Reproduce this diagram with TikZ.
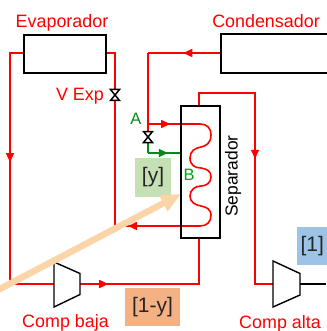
\documentclass[tikz,border=0pt]{standalone}
\usepackage{fontspec}
\setmainfont{Liberation Sans}
\usetikzlibrary{arrows.meta,decorations.markings}
\definecolor{rd}{RGB}{255,0,0}
\definecolor{grn}{RGB}{0,140,20}
\definecolor{lblgreen}{RGB}{197,224,180}
\definecolor{lblorange}{RGB}{244,177,131}
\definecolor{lblblue}{RGB}{157,195,230}
\definecolor{beige}{RGB}{251,212,168}
\tikzset{
  x=1pt,y=-1pt,
  unit/.style={draw=black,line width=1.7pt,inner sep=0,minimum width=#1},
  pipe/.style={draw=rd,line width=1.6pt},
  gpipe/.style={draw=grn,line width=1.6pt},
  mid/.style={postaction={decorate},decoration={markings,mark=at position #1 with {\arrow[rd]{Triangle[length=9pt,width=8pt]}}}},
  gmid/.style={postaction={decorate},decoration={markings,mark=at position #1 with {\arrow[grn]{Triangle[length=9pt,width=8pt]}}}},
  lab/.style={text=rd,font=\fontsize{17.9}{19}\selectfont,inner sep=0},
  tag/.style={font=\fontsize{21}{23}\selectfont,inner sep=0,text=black!85},
  valve/.style={draw=black,line width=1.5pt,fill=white},
  comp/.style={draw=black,line width=1.4pt,fill=white},
}
\begin{document}
\begin{tikzpicture}
\useasboundingbox (0,0) rectangle (326,331);
% junction coordinates
\coordinate (evL) at (23,53);
\coordinate (evR) at (105,53);
\coordinate (cdL) at (220,53);
\coordinate (lc1) at (10,53);
\coordinate (lc2) at (10,284);
\coordinate (rc1) at (115,53);
\coordinate (rc2) at (115,226);
\coordinate (ca) at (148,53);
\coordinate (vA) at (148,137);
\coordinate (jA) at (148,124);
\coordinate (sepIn) at (180,124);
\coordinate (coilEnd) at (180,226);
\coordinate (gc) at (148,153);
\coordinate (gEnd) at (180,153);
\coordinate (sT) at (199,105);
\coordinate (sB) at (199,237);
\coordinate (t1) at (199,93);
\coordinate (t2) at (255,93);
\coordinate (t3) at (255,284);
\coordinate (b1) at (199,284);
\coordinate (cbIn) at (54,284);
\coordinate (cbOut) at (80,284);
\coordinate (caIn) at (273,284);
\coordinate (caOut) at (300,284);
\coordinate (rEdge) at (326,284);
% pipes
\draw[pipe,mid=0.424] (evL) -- (lc1) -- (lc2) -- (cbIn);
\draw[pipe] (evR) -- (rc1) -- (rc2);
\draw[pipe] (ca) -- (vA);
\draw[pipe,mid=0.51] (cdL) -- (ca);
\draw[pipe,mid=0.69] (jA) -- (sepIn);
\draw[gpipe] (vA) -- (gc);
\draw[gpipe,gmid=0.62] (gc) -- (gEnd);
\draw[pipe,mid=0.483] (sT) -- (t1) -- (t2) -- (t3) -- (caIn);
\draw[pipe,mid=0.17] (cbOut) -- (b1) -- (sB);
\draw[black,line width=1.4pt] (caOut) -- (rEdge);
% coil
\draw[pipe] (sepIn) -- (200,124) .. controls (207,124) and (211,128) .. (211,135)
  .. controls (211,143) and (206,146) .. (201,147)
  .. controls (195,148) and (190,151) .. (190,158)
  .. controls (190,165) and (195,168) .. (201,168)
  .. controls (207,169) and (211,171) .. (211,177)
  .. controls (211,183) and (206,186) .. (201,186)
  .. controls (195,186) and (190,190) .. (190,196)
  .. controls (190,202) and (195,205) .. (201,206)
  .. controls (207,207) and (211,210) .. (211,215)
  .. controls (211,222) and (207,226) .. (200,226) -- (coilEnd);
\draw[pipe,mid=0.8] (coilEnd) -- (rc2);
% boxes
\node[unit=82pt,minimum height=38pt,anchor=north west,fill=white] (evap) at (23,34) {};
\node[unit=108pt,minimum height=39pt,anchor=north west,fill=white] (cond) at (220,33.5) {};
% compressors
\draw[comp] (54,262) -- (80,273.5) -- (80,294.5) -- (54,307) -- cycle;
\draw[comp] (273,261) -- (300,273.5) -- (300,295) -- (273,307) -- cycle;
% valves
\draw[valve] (110.5,89.5) -- (119.5,89.5) -- (110.5,100.5) -- (119.5,100.5) -- cycle;
\draw[valve] (143.5,131.5) -- (152.5,131.5) -- (143.5,142.5) -- (152.5,142.5) -- cycle;
% tags
\node[fill=lblgreen,minimum width=36pt,minimum height=38.5pt,tag] (y) at (153,177.5) {\raisebox{-3pt}{[y]}};
\node[fill=lblorange,minimum width=55pt,minimum height=38pt,tag] (oney) at (152.5,307) {\raisebox{-3pt}{[1-y]}};
\node[fill=lblblue,minimum width=30pt,minimum height=38pt,tag,anchor=north west] (one) at (297,227) {\raisebox{-3pt}{[1]}};
% beige arrow
\coordinate (bS) at (-4,291);
\coordinate (bE) at (181,194);
\draw[beige,line width=6.5pt,-{Triangle[length=20pt,width=17pt]}] (bS) -- (bE);
% separator over the arrow tip
\node[unit=39pt,minimum height=132pt,anchor=north west] (sep) at (180,105) {};
% labels
\node[lab] (levap) at (62,22.5) {Evaporador};
\node[lab] (lcond) at (266,21.5) {Condensador};
\node[lab,anchor=east] (lvexp) at (104,96) {V Exp};
\node[lab] (lcb) at (65.5,323) {Comp baja};
\node[lab] (lca) at (280,323.5) {Comp alta};
\node[lab,text=grn,font=\fontsize{16.5}{18}\selectfont] (la) at (136,119) {A};
\node[lab,text=grn!80!green,font=\fontsize{16.5}{18}\selectfont] (lb) at (189,174.5) {B};
\node[lab,text=black,rotate=90,font=\fontsize{17.4}{19}\selectfont] (lsep) at (233,176) {Separador};
\end{tikzpicture}
\end{document}
